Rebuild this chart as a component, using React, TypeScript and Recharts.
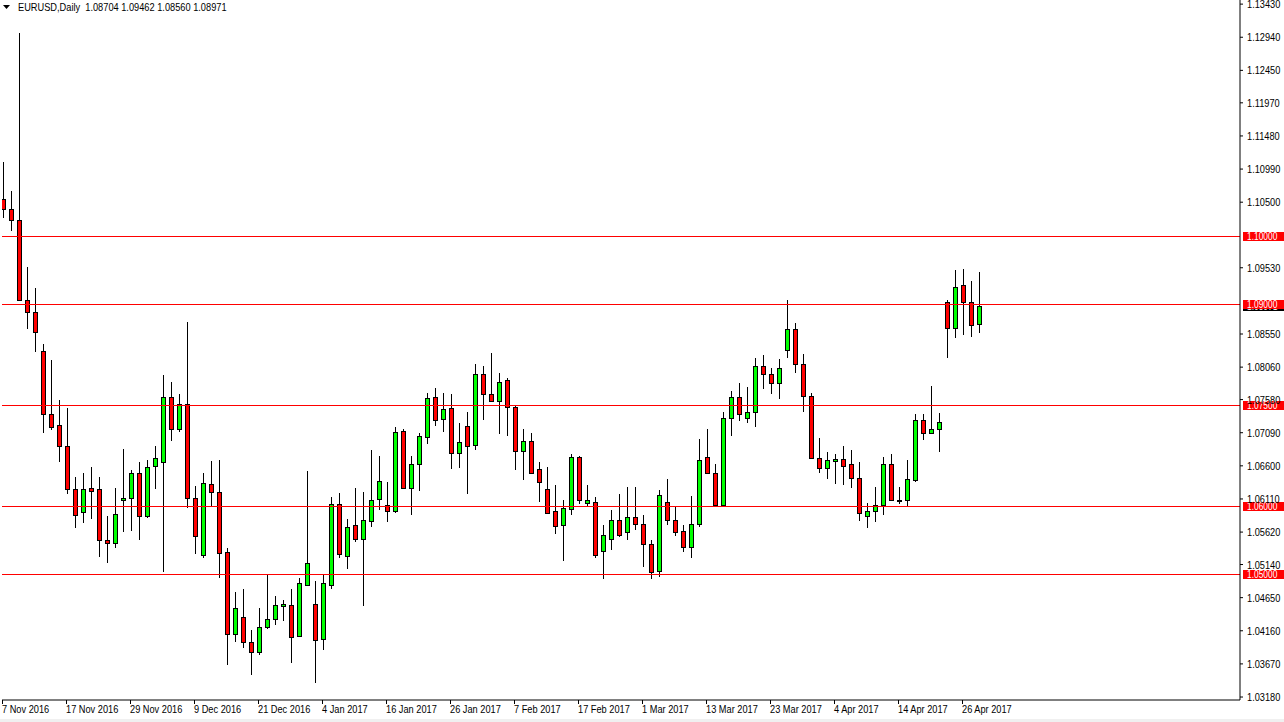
import React from 'react';
import { ComposedChart, Bar, XAxis, YAxis, ReferenceLine } from 'recharts';

// daily EURUSD candles, 7 Nov 2016 .. 28 Apr 2017 (index = trading day)
const openP = [
  1.1054, 1.1040, 1.1023, 1.0906, 1.0888, 1.0830, 1.0736, 1.0720, 1.0690, 1.0625,
  1.0591, 1.0627, 1.0625, 1.0551, 1.0546, 1.0609, 1.0612, 1.0649, 1.0586, 1.0660,
  1.0665, 1.0762, 1.0715, 1.0751, 1.0612, 1.0528, 1.0633, 1.0621, 1.0533, 1.0411,
  1.0437, 1.0400, 1.0384, 1.0421, 1.0434, 1.0453, 1.0454, 1.0409, 1.0483, 1.0456,
  1.0404, 1.0484, 1.0604, 1.0526, 1.0572, 1.0552, 1.0579, 1.0611, 1.0602, 1.0593,
  1.0712, 1.0627, 1.0663, 1.0702, 1.0762, 1.0730, 1.0746, 1.0679, 1.0719, 1.0691,
  1.0796, 1.0767, 1.0756, 1.0787, 1.0747, 1.0682, 1.0697, 1.0656, 1.0626, 1.0593,
  1.0573, 1.0596, 1.0673, 1.0605, 1.0607, 1.0534, 1.0552, 1.0580, 1.0562, 1.0584,
  1.0574, 1.0544, 1.0504, 1.0607, 1.0580, 1.0564, 1.0540, 1.0574, 1.0673, 1.0650,
  1.0602, 1.0731, 1.0762, 1.0731, 1.0739, 1.0808, 1.0796, 1.0783, 1.0832, 1.0863,
  1.0811, 1.0764, 1.0672, 1.0657, 1.0667, 1.0670, 1.0662, 1.0642, 1.0586, 1.0593,
  1.0602, 1.0663, 1.0610, 1.0610, 1.0639, 1.0728, 1.0709, 1.0715, 1.0903, 1.0864,
  1.0927, 1.0902, 1.08704,
];
const highP = [
  1.1110, 1.1066, 1.1300, 1.0954, 1.0923, 1.0840, 1.0817, 1.0758, 1.0745, 1.0643,
  1.0649, 1.0658, 1.0643, 1.0586, 1.0627, 1.0685, 1.0654, 1.0665, 1.0668, 1.0690,
  1.0795, 1.0784, 1.0767, 1.0873, 1.0630, 1.0650, 1.0667, 1.0669, 1.0539, 1.0473,
  1.0478, 1.0417, 1.0450, 1.0500, 1.0468, 1.0462, 1.0478, 1.0494, 1.0653, 1.0489,
  1.0499, 1.0614, 1.0620, 1.0582, 1.0627, 1.0622, 1.0684, 1.0674, 1.0636, 1.0718,
  1.0714, 1.0675, 1.0709, 1.0768, 1.0775, 1.0768, 1.0766, 1.0724, 1.0739, 1.0811,
  1.0807, 1.0827, 1.0797, 1.0790, 1.0748, 1.0714, 1.0709, 1.0666, 1.0658, 1.0632,
  1.0609, 1.0678, 1.0675, 1.0632, 1.0614, 1.0573, 1.0594, 1.0618, 1.0629, 1.0629,
  1.0588, 1.0551, 1.0624, 1.0640, 1.0601, 1.0573, 1.0615, 1.0699, 1.0714, 1.0662,
  1.0739, 1.0770, 1.0782, 1.0776, 1.0819, 1.0824, 1.0804, 1.0818, 1.0905, 1.0872,
  1.0826, 1.0768, 1.0701, 1.0680, 1.0677, 1.0689, 1.0683, 1.0666, 1.0605, 1.0629,
  1.0673, 1.0677, 1.0628, 1.0669, 1.0736, 1.0736, 1.0778, 1.0738, 1.0905, 1.0949,
  1.0951, 1.0933, 1.09462,
];
const lowP = [
  1.1026, 1.1007, 1.0904, 1.0863, 1.0828, 1.0708, 1.0713, 1.0665, 1.0619, 1.0568,
  1.0576, 1.0581, 1.0525, 1.0517, 1.0538, 1.0562, 1.0564, 1.0551, 1.0583, 1.0625,
  1.0503, 1.0696, 1.0710, 1.0597, 1.0530, 1.0524, 1.0601, 1.0494, 1.0365, 1.0399,
  1.0390, 1.0350, 1.0380, 1.0419, 1.0424, 1.0430, 1.0369, 1.0407, 1.0482, 1.0339,
  1.0387, 1.0478, 1.0523, 1.0508, 1.0548, 1.0452, 1.0569, 1.0594, 1.0577, 1.0590,
  1.0626, 1.0587, 1.0623, 1.0692, 1.0719, 1.0710, 1.0656, 1.0657, 1.0619, 1.0683,
  1.0728, 1.0755, 1.0707, 1.0704, 1.0654, 1.0639, 1.0648, 1.0606, 1.0589, 1.0559,
  1.0519, 1.0587, 1.0603, 1.0600, 1.0524, 1.0492, 1.0535, 1.0555, 1.0550, 1.0565,
  1.0511, 1.0492, 1.0496, 1.0572, 1.0556, 1.0532, 1.0524, 1.0570, 1.0648, 1.0600,
  1.0600, 1.0704, 1.0726, 1.0724, 1.0717, 1.0773, 1.0766, 1.0759, 1.0820, 1.0798,
  1.0739, 1.0670, 1.0649, 1.0640, 1.0633, 1.0631, 1.0627, 1.0578, 1.0568, 1.0577,
  1.0587, 1.0608, 1.0603, 1.0600, 1.0636, 1.0698, 1.0707, 1.0680, 1.0820, 1.0849,
  1.0854, 1.0851, 1.08560,
];
const closeP = [
  1.1040, 1.1023, 1.0906, 1.0888, 1.0858, 1.0736, 1.0718, 1.0690, 1.0625, 1.0588,
  1.0625, 1.0623, 1.0551, 1.0546, 1.0589, 1.0612, 1.0649, 1.0586, 1.0659, 1.0671,
  1.0762, 1.0715, 1.0751, 1.0612, 1.0556, 1.0634, 1.0621, 1.0531, 1.0411, 1.0450,
  1.0400, 1.0384, 1.0422, 1.0434, 1.0454, 1.0456, 1.0407, 1.0487, 1.0517, 1.0403,
  1.0486, 1.0604, 1.0530, 1.0570, 1.0552, 1.0580, 1.0610, 1.0638, 1.0593, 1.0710,
  1.0627, 1.0662, 1.0704, 1.0761, 1.0728, 1.0744, 1.0679, 1.0695, 1.0690, 1.0796,
  1.0767, 1.0756, 1.0784, 1.0747, 1.0682, 1.0697, 1.0650, 1.0636, 1.0590, 1.0571,
  1.0598, 1.0673, 1.0610, 1.0609, 1.0528, 1.0557, 1.0580, 1.0557, 1.0584, 1.0574,
  1.0544, 1.0503, 1.0617, 1.0580, 1.0562, 1.0540, 1.0574, 1.0669, 1.0650, 1.0602,
  1.0731, 1.0762, 1.0736, 1.0739, 1.0808, 1.0796, 1.0783, 1.0804, 1.0862, 1.0811,
  1.0764, 1.0672, 1.0657, 1.0668, 1.0670, 1.0660, 1.0642, 1.0590, 1.0593, 1.0602,
  1.0663, 1.0610, 1.0608, 1.0641, 1.0728, 1.0709, 1.0715, 1.0725, 1.0864, 1.0925,
  1.0903, 1.0869, 1.08971,
];

const tickIdx = [0, 8, 16, 24, 32, 40, 48, 56, 64, 72, 80, 88, 96, 104, 112, 120];
const tickLabels = [
  '7 Nov 2016', '17 Nov 2016', '29 Nov 2016', '9 Dec 2016', '21 Dec 2016', '4 Jan 2017',
  '16 Jan 2017', '26 Jan 2017', '7 Feb 2017', '17 Feb 2017', '1 Mar 2017', '13 Mar 2017',
  '23 Mar 2017', '4 Apr 2017', '14 Apr 2017', '26 Apr 2017',
];
const priceTicks = [
  1.1343, 1.1294, 1.1245, 1.1197, 1.1148, 1.1099, 1.105, 1.0953, 1.0855, 1.0806,
  1.0758, 1.0709, 1.066, 1.0611, 1.0562, 1.0514, 1.0465, 1.0416, 1.0367, 1.0318,
];
const levels = [1.1, 1.09, 1.075, 1.06, 1.05];
const lastPrice = 1.08971;
const title = 'EURUSD,Daily  1.08704 1.09462 1.08560 1.08971';

const data = openP.map((o, i) => ({
  idx: i,
  open: o,
  high: highP[i],
  low: lowP[i],
  close: closeP[i],
  range: [lowP[i], highP[i]],
}));

// MT4 uses a narrow Tahoma-ish face; squeeze Liberation Sans to match
const FONT = '"Liberation Sans", Arial, sans-serif';
const FS = 11;
const SQ = 0.84;

function Squeezed({ x, y, fill = '#000', size = FS, children }: any) {
  return (
    <text transform={`translate(${x},${y}) scale(${SQ},1)`} fontSize={size} fontFamily={FONT} fill={fill}>
      {children}
    </text>
  );
}

function Candle(props: any) {
  const { x, y, width, height, payload } = props;
  const { open, close, high, low } = payload;
  const ppu = high === low ? 0 : height / (high - low);
  const yOf = (v: number) => y + (high - v) * ppu;
  const cx = Math.floor(x + width / 2) + 0.5;
  const top = Math.round(yOf(Math.max(open, close))) + 0.5;
  const bot = Math.round(yOf(Math.min(open, close))) + 0.5;
  const bull = close >= open;
  return (
    <g>
      <line x1={cx} x2={cx} y1={Math.round(yOf(high))} y2={Math.round(yOf(low))} stroke="#000" strokeWidth={1} />
      {bot - top >= 1 ? (
        <rect x={cx - 2} y={top} width={4} height={bot - top} fill={bull ? '#00FF00' : '#FF0000'} stroke="#000" strokeWidth={1} />
      ) : (
        <line x1={cx - 2} x2={cx + 3} y1={top} y2={top} stroke="#000" strokeWidth={1} />
      )}
    </g>
  );
}

function DateTick(props: any) {
  const { x, payload } = props;
  const k = tickIdx.indexOf(payload.value);
  const tx = Math.round(x) - 1.5;
  return (
    <g>
      <line x1={tx} x2={tx} y1={700} y2={704} stroke="#000" />
      <Squeezed x={tx - 0.5} y={713}>{k >= 0 ? tickLabels[k] : ''}</Squeezed>
    </g>
  );
}

function PriceTick(props: any) {
  const { x, y, payload } = props;
  return <Squeezed x={x} y={y + 4}>{Number(payload.value).toFixed(5)}</Squeezed>;
}

function LevelLine(props: any) {
  const { x1, x2, y1 } = props;
  return <rect x={Math.min(x1, x2)} y={Math.round(y1)} width={Math.abs(x2 - x1)} height={1} fill="#FF0000" />;
}

function priceLabel(value: number, bg: string) {
  return (p: any) => {
    const { x, y, width } = p.viewBox;
    const r = x + width;
    const yy = Math.round(y);
    return (
      <g>
        <rect x={r + 3} y={yy - 4} width={41} height={9} fill={bg} />
        <Squeezed x={r + 7} y={yy + 4} fill="#fff" size={10}>{value.toFixed(5)}</Squeezed>
      </g>
    );
  };
}

export default function App() {
  return (
    <div style={{ position: 'absolute', left: 0, top: 0, width: 1284, height: 722, background: '#fff' }}>
      <ComposedChart width={1284} height={722} data={data} margin={{ top: 0, right: 0, left: 2, bottom: 0 }}>
        <XAxis
          xAxisId="b"
          dataKey="idx"
          type="number"
          domain={[-0.25, 154.5]}
          ticks={tickIdx}
          interval={0}
          height={22}
          axisLine={{ stroke: '#000' }}
          tickLine={false}
          tick={<DateTick />}
          allowDataOverflow
        />
        <XAxis xAxisId="t" orientation="top" dataKey="idx" type="number" domain={[-0.25, 154.5]} height={0} tick={false} tickLine={false} axisLine={{ stroke: '#000' }} />
        <YAxis yAxisId="l" orientation="left" width={0} tick={false} tickLine={false} axisLine={{ stroke: '#000' }} />
        <YAxis
          yAxisId="p"
          orientation="right"
          type="number"
          domain={[1.03136, 1.13491]}
          ticks={priceTicks}
          interval={0}
          allowDataOverflow
          width={44}
          tickSize={3}
          tickMargin={4}
          axisLine={{ stroke: '#000' }}
          tickLine={{ stroke: '#000' }}
          tick={<PriceTick />}
        />
        <Bar xAxisId="b" yAxisId="p" dataKey="range" barSize={7} shape={<Candle />} isAnimationActive={false} />
        <ReferenceLine xAxisId="b" yAxisId="p" y={lastPrice} stroke="none" strokeOpacity={0} label={priceLabel(lastPrice, '#000')} />
        {levels.map((lv) => (
          <ReferenceLine
            key={lv}
            xAxisId="b"
            yAxisId="p"
            y={lv}
            stroke="#FF0000"
            shape={<LevelLine />}
            label={priceLabel(lv, '#FF0000')}
          />
        ))}
      </ComposedChart>
      <svg style={{ position: 'absolute', left: 3, top: 5 }} width={8} height={5}>
        <polygon points="0,0 7,0 3.5,4" fill="#000" />
      </svg>
      <div
        style={{
          position: 'absolute',
          left: 18,
          top: 1,
          fontSize: FS,
          fontFamily: FONT,
          color: '#000',
          whiteSpace: 'pre',
          lineHeight: '12px',
          transform: `scaleX(${SQ})`,
          transformOrigin: 'left top',
        }}
      >
        {title}
      </div>
      <div style={{ position: 'absolute', left: 0, top: 719, width: 1284, height: 3, background: '#f0f0f0' }} />
    </div>
  );
}
